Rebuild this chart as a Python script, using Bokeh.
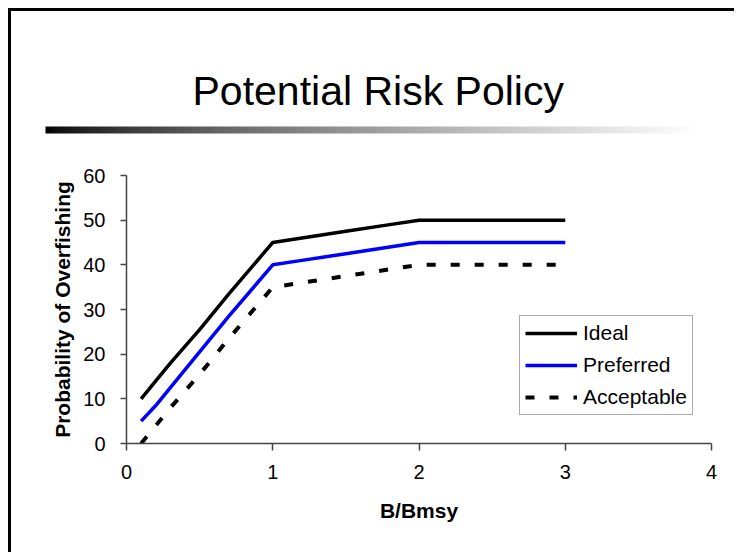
from bokeh.plotting import figure
from bokeh.models import (Range1d, FixedTicker, Legend, LegendItem, Title,
                          ColorBar, LinearColorMapper)
from bokeh.embed import file_html
from bokeh.resources import INLINE

# ---------------- data ----------------
title_text = "Potential Risk Policy"
x_label = "B/Bmsy"
y_label = "Probability of Overfishing"

b_ratio = [0.1, 0.2, 0.3, 0.5, 0.7, 1.0, 1.2, 1.5, 1.8, 2.0, 3.0]
ideal = [10, 14, 18, 25.5, 33.5, 45, 46, 47.5, 49, 50, 50]
preferred = [5, 8.5, 12.5, 20.5, 28.5, 40, 41, 42.5, 44, 45, 45]
acceptable = [0, 4, 8, 15.5, 23.5, 35, 36, 37.5, 39, 40, 40]
series_names = ["Ideal", "Preferred", "Acceptable"]
x_ticks = [0, 1, 2, 3, 4]
y_ticks = [0, 10, 20, 30, 40, 50, 60]

FONT = "Liberation Sans"
W = 726
H = 544

p = figure(width=W, height=H, x_range=Range1d(0, 4), y_range=Range1d(0, 60),
           output_backend="svg", toolbar_location=None, title_location=None,
           min_border_left=115, min_border_right=W - 700,
           min_border_top=164, min_border_bottom=H - 432,
           styles={"margin-left": "11px", "margin-top": "11px",
                   "box-shadow": "-3px -3px 0px 0px #000000"})
p.grid.visible = False
p.outline_line_color = None

# ---- header: spacer, gradient rule, slide title (stacked outward from the frame)
p.add_layout(Title(text=" ", text_font_size="10px", standoff=29), "above")

grays = []
for i in range(256):
    g = int(255 * (i / 255) ** 0.7)
    grays.append("#%02x%02x%02x" % (g, g, g))
cbar = ColorBar(color_mapper=LinearColorMapper(palette=grays, low=0, high=1),
                orientation="horizontal", width=655, height=7, padding=0, margin=0,
                location=(-81, 0), ticker=FixedTicker(ticks=[]),
                major_tick_line_color=None, minor_tick_line_color=None,
                major_tick_out=0, label_standoff=0,
                bar_line_color=None, border_line_color=None,
                background_fill_color=None, major_label_text_font_size="1px")
p.add_layout(cbar, "above")

p.add_layout(Title(text=title_text, text_font=FONT, text_font_size="41px",
                   text_font_style="normal", text_color="black",
                   align="left", offset=66, standoff=25), "above")

# ---- series
r1 = p.line(b_ratio, ideal, line_color="black", line_width=3.5)
r2 = p.line(b_ratio, preferred, line_color="#0000ff", line_width=3.5)
r3 = p.line(b_ratio, acceptable, line_color="black", line_width=4, line_dash="9 15")

p.xaxis.ticker = FixedTicker(ticks=x_ticks)
p.yaxis.ticker = FixedTicker(ticks=y_ticks)
for ax in (p.xaxis, p.yaxis):
    ax.major_tick_in = 0
    ax.minor_tick_out = 0
    ax.minor_tick_in = 0
    ax.axis_line_color = "#444444"
    ax.axis_line_width = 1.5
    ax.major_tick_line_color = "#444444"
    ax.major_tick_line_width = 1.5
    ax.major_label_text_font = FONT
    ax.major_label_text_font_size = "20px"
    ax.major_label_text_color = "black"
    ax.axis_label_text_font = FONT
    ax.axis_label_text_font_size = "21px"
    ax.axis_label_text_font_style = "bold"
    ax.axis_label_text_color = "black"
p.xaxis.major_tick_out = 7
p.yaxis.major_tick_out = 6
p.xaxis.major_label_standoff = 14
p.yaxis.major_label_standoff = 15
p.xaxis.axis_label = x_label
p.yaxis.axis_label = y_label
p.xaxis.axis_label_standoff = 17
p.yaxis.axis_label_standoff = 6

legend = Legend(items=[LegendItem(label=series_names[0], renderers=[r1]),
                       LegendItem(label=series_names[1], renderers=[r2]),
                       LegendItem(label=series_names[2], renderers=[r3])],
                location=(393, 28))
legend.border_line_color = "#555555"
legend.border_line_width = 1.2
legend.padding = 5
legend.spacing = 8
legend.glyph_height = 24
legend.label_height = 24
legend.glyph_width = 52
legend.label_standoff = 6
legend.margin = 0
legend.label_text_font = FONT
legend.label_text_font_size = "21px"
legend.label_text_color = "black"
p.add_layout(legend)

open("out.html", "w").write(file_html(p, INLINE))
